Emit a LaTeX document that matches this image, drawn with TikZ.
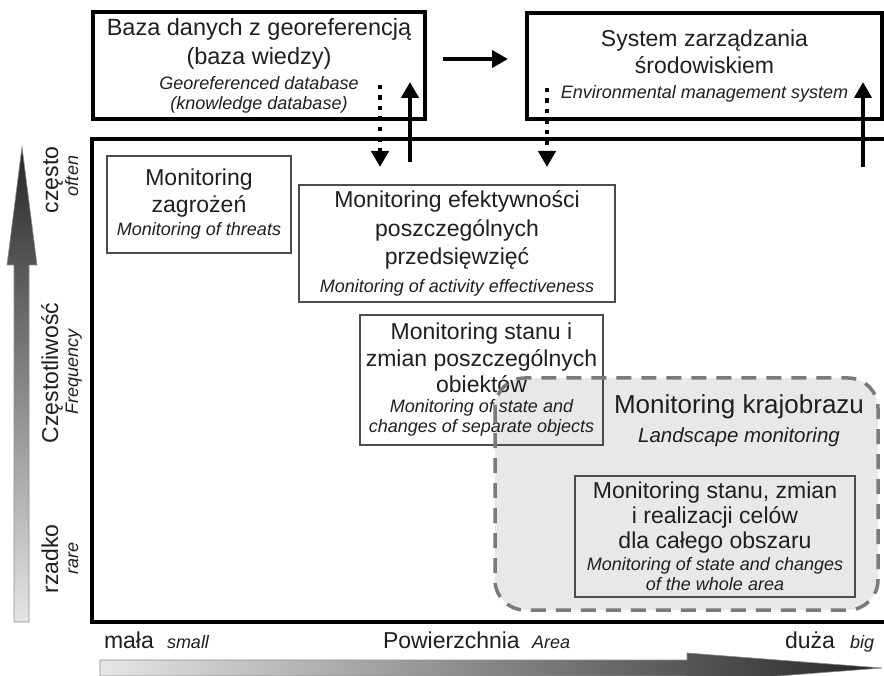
\documentclass[tikz,border=0pt]{standalone}
\usepackage{fontspec}
\setmainfont{Liberation Sans}
\usetikzlibrary{arrows.meta,calc}
\newcommand\myit{\fontsize{18}{20}\selectfont\itshape}
\begin{document}
\begin{tikzpicture}[x=1pt,y=-1pt,
  every node/.style={text=black!88, inner sep=0pt, outer sep=0pt},
  mf/.style={font=\fontsize{23}{#1}\selectfont},
  bigbox/.style={draw=black, line width=3.5pt, align=center},
  smallbox/.style={draw=black!70, line width=1.2pt, align=center},
  fat/.style={line width=4.5pt, draw=black, -{Triangle[width=17pt,length=16pt]}},
  dotarrow/.style={line width=4.5pt, draw=black, dash pattern=on 4.5pt off 6pt, -{Triangle[width=17pt,length=16pt]}},
  frame/.style={draw=black, line width=3.5pt},
  vlab/.style={rotate=90, anchor=base, font=\fontsize{23}{27}\selectfont},
  vit/.style={rotate=90, anchor=base, font=\myit},
  hlab/.style={anchor=base west, font=\fontsize{23}{27}\selectfont},
  hit/.style={anchor=base west, font=\myit},
  landfill/.style={fill=black!9, rounded corners=30pt},
  landdash/.style={draw=black!52, line width=3.5pt, dash pattern=on 15pt off 10pt, rounded corners=30pt},
]
\useasboundingbox (0,0) rectangle (884,676);
\fill[white] (0,0) rectangle (884,676);

% gradient axis arrows
\shade[top color=black!85, bottom color=black!10, draw=black!45, line width=0.6pt]
  (14,622) -- (14,265) -- (7,265) -- (22,147) -- (37,265) -- (29,265) -- (29,622) -- cycle;
\shade[left color=black!10, right color=black!85, draw=black!45, line width=0.6pt]
  (100,660) -- (687,660) -- (687,653) -- (882,668) -- (687,683) -- (687,676) -- (100,676) -- cycle;

% landscape area fill
\fill[landfill] (495,378) rectangle (878,610);

% main frame
\node[frame, minimum width=798pt, minimum height=483pt] (frame) at (491,380.5) {};

% top boxes
\node[bigbox, font=\fontsize{23.5}{29}\selectfont, minimum width=332pt, minimum height=107pt] (db) at (259,65.5)
  {Baza danych z georeferencją\\ (baza wiedzy)\\[-4pt] {\myit Georeferenced database}\\[-9pt] {\myit (knowledge database)}};
\node[bigbox, mf=27, minimum width=355pt, minimum height=106pt] (sys) at (704.5,66)
  {System zarządzania\\ środowiskiem\\[-2pt] {\myit Environmental management system}};

% monitoring boxes
\node[smallbox, mf=27, minimum width=184pt, minimum height=97pt] (zag) at (199,204.5)
  {Monitoring\\ zagrożeń\\[-4pt] {\myit Monitoring of threats}};
\node[smallbox, mf=28.5, minimum width=316pt, minimum height=117pt] (eff) at (457,243.5)
  {Monitoring efektywności\\ poszczególnych\\ przedsięwzięć\\[-0.5pt] {\myit Monitoring of activity effectiveness}};
\node[smallbox, mf=26.5, minimum width=243pt, minimum height=130pt] (stan) at (481.5,380)
  {Monitoring stanu i\\ zmian poszczególnych\\ obiektów\\[-6.5pt] {\myit Monitoring of state and}\\[-6.5pt] {\myit changes of separate objects}};
\node[smallbox, mf=25, minimum width=280pt, minimum height=121pt] (inner) at (715,536.5)
  {Monitoring stanu, zmian\\ i realizacji celów\\ dla całego obszaru\\[-3pt] {\myit Monitoring of state and changes}\\[-5pt] {\myit of the whole area}};

\node[align=center, font=\fontsize{26}{29}\selectfont] (landt) at (739,421)
  {Monitoring krajobrazu\\ {\fontsize{20.5}{22}\selectfont\itshape Landscape monitoring}};

% landscape dashed outline
\draw[landdash] (495,378) rectangle (878,610);

% connectors
\draw[fat] ($(db.east)+(18,-6.5)$) -- ($(sys.west)+(-19,-7)$);
\coordinate (d1s) at (380,85);  \coordinate (d1e) at (380,167);
\coordinate (u1s) at (410,162); \coordinate (u1e) at (410,82);
\coordinate (d2s) at (547,88);  \coordinate (d2e) at (547,167);
\coordinate (u2s) at (863,167); \coordinate (u2e) at (863,82);
\draw[dotarrow] (d1s) -- (d1e);
\draw[fat] (u1s) -- (u1e);
\draw[dotarrow] (d2s) -- (d2e);
\draw[fat] (u2s) -- (u2e);

% axis labels
\node[vlab] (often) at (58,180) {często};
\node[vit] (oftenen) at (78,176) {often};
\node[vlab] (freq) at (58,373) {Częstotliwość};
\node[vit] (freqen) at (78,372) {Frequency};
\node[vlab] (rare) at (58,559) {rzadko};
\node[vit] (rareen) at (78,558) {rare};

\node[hlab] (small) at (104,648) {mała};
\node[hit] (smallen) at (167,648) {small};
\node[hlab] (area) at (383,648) {Powierzchnia};
\node[hit] (areaen) at (532,648) {Area};
\node[hlab] (big) at (785,648) {duża};
\node[hit] (bigen) at (850,648) {big};
\end{tikzpicture}
\end{document}
